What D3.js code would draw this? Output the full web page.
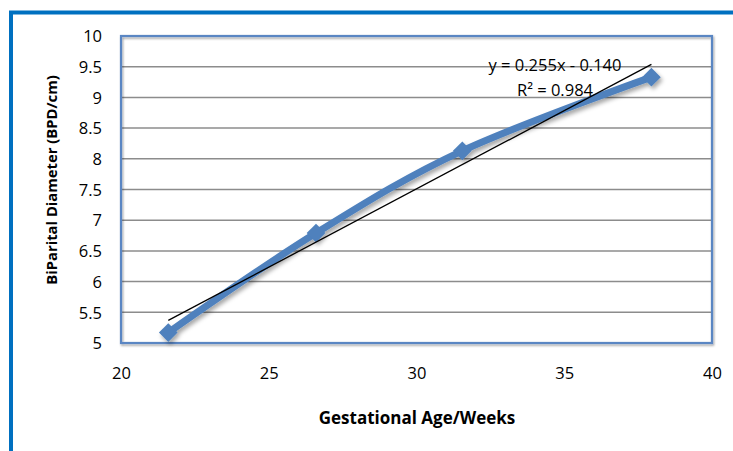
<!DOCTYPE html>
<html><head><meta charset="utf-8">
<script src="https://cdn.jsdelivr.net/npm/d3@7"></script>
<style>
html,body{margin:0;padding:0;background:#fff;}
svg{display:block;}
text{font-family:"Open Sans","Liberation Sans",sans-serif;fill:#000;}
</style></head>
<body>
<svg id="chart" width="733" height="451"></svg>
<script>
const weeks = [21.6, 26.6, 31.55, 37.95];
const bpd = [5.17, 6.79, 8.13, 9.33];
const xTicks = [20, 25, 30, 35, 40];
const yTicks = [5, 5.5, 6, 6.5, 7, 7.5, 8, 8.5, 9, 9.5, 10];
const trendSlope = 0.255;
const trendIntercept = -0.140;
const equationLines = ["y = 0.255x - 0.140", "R² = 0.984"];
const xTitle = "Gestational Age/Weeks";
const yTitle = "BiParital Diameter (BPD/cm)";

const svg = d3.select("#chart");
const defs = svg.append("defs");
const f = defs.append("filter").attr("id","sh").attr("x","-20%").attr("y","-20%").attr("width","140%").attr("height","140%");
f.append("feDropShadow").attr("dx",2).attr("dy",3).attr("stdDeviation",2).attr("flood-color","#000").attr("flood-opacity",0.35);
const f2 = defs.append("filter").attr("id","sh2").attr("x","-5%").attr("y","-5%").attr("width","110%").attr("height","110%");
f2.append("feDropShadow").attr("dx",1).attr("dy",1.5).attr("stdDeviation",1).attr("flood-color","#000").attr("flood-opacity",0.4);

// outer frame
svg.append("path").attr("d","M11,455 L11,12.5 L740,12.5").attr("fill","none").attr("stroke","#0070C0").attr("stroke-width",4);

const L=121, R=712, T=36, B=343;
const x = d3.scaleLinear().domain([20,40]).range([L,R]);
const y = d3.scaleLinear().domain([5,10]).range([B,T]);

// gridlines
svg.append("g").selectAll("line").data(yTicks.filter(d=>d>5&&d<10)).join("line")
  .attr("x1",L).attr("x2",R).attr("y1",d=>y(d)).attr("y2",d=>y(d))
  .attr("stroke","#8c8c8c").attr("stroke-width",1.5);

// plot border
svg.append("rect").attr("x",L).attr("y",T).attr("width",R-L).attr("height",B-T)
  .attr("fill","none").attr("stroke","#5A86C3").attr("stroke-width",2.2).attr("filter","url(#sh2)");

// axes labels via d3 axes
const yAxis = d3.axisLeft(y).tickValues(yTicks).tickSize(0).tickPadding(19).tickFormat(d3.format("~g"));
const gy = svg.append("g").attr("transform",`translate(${L},0)`).call(yAxis);
gy.select(".domain").remove();
gy.selectAll("text").attr("font-size",16.5).attr("font-family","'Open Sans',sans-serif").attr("fill","#000").attr("dy","0.35em");

const xAxis = d3.axisBottom(x).tickValues(xTicks).tickSize(0).tickPadding(24).tickFormat(d3.format("~g"));
const gx = svg.append("g").attr("transform",`translate(0,${B})`).call(xAxis);
gx.select(".domain").remove();
gx.selectAll("text").attr("font-size",16.5).attr("font-family","'Open Sans',sans-serif").attr("fill","#000");

// data line
const line = d3.line().x(d=>x(d[0])).y(d=>y(d[1])).curve(d3.curveCatmullRom.alpha(0));
const pts = weeks.map((w,i)=>[w,bpd[i]]);
const dg = svg.append("g").attr("filter","url(#sh)");
dg.append("path").attr("d",line(pts)).attr("fill","none").attr("stroke","#4F81BD").attr("stroke-width",7).attr("stroke-linejoin","round");
const sym = d3.symbol().type(d3.symbolSquare).size(175);
dg.selectAll("path.m").data(pts).join("path").attr("class","m")
  .attr("d",sym).attr("transform",d=>`translate(${x(d[0])},${y(d[1])}) rotate(45)`).attr("fill","#4F81BD");

// trendline
const tx = [d3.min(weeks), d3.max(weeks)];
svg.append("line").attr("x1",x(tx[0])).attr("y1",y(trendSlope*tx[0]+trendIntercept))
  .attr("x2",x(tx[1])).attr("y2",y(trendSlope*tx[1]+trendIntercept))
  .attr("stroke","#000").attr("stroke-width",1.3);

// equation
svg.append("text").attr("x",555).attr("y",71).attr("text-anchor","middle").attr("font-size",16.5).text(equationLines[0]);
svg.append("text").attr("x",555).attr("y",96).attr("text-anchor","middle").attr("font-size",16.5).text(equationLines[1]);

// titles
svg.append("text").attr("x",417).attr("y",424).attr("text-anchor","middle").attr("font-size",17).attr("font-weight","bold").text(xTitle);
svg.append("text").attr("transform","translate(57,180) rotate(-90)").attr("text-anchor","middle").attr("font-size",14.8).attr("font-weight","bold").text(yTitle);
</script>
</body></html>
